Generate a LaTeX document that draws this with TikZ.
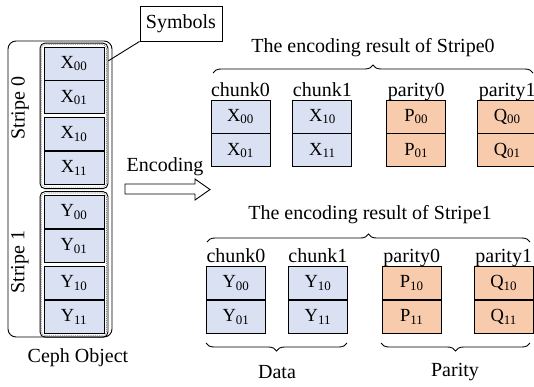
\documentclass[tikz,border=0pt]{standalone}
\usepackage{fontspec}
\setmainfont{Liberation Serif}
\usetikzlibrary{positioning, fit, decorations.pathreplacing, calc}
\definecolor{datablue}{RGB}{218,225,243}
\definecolor{parorange}{RGB}{248,203,173}

\begin{document}
\begin{tikzpicture}[x=1pt, y=-1pt, line width=0.9pt, font=\fontsize{20}{23}\selectfont,
    cell/.style={draw, minimum width=59pt, minimum height=33pt, inner sep=0pt, font=\fontsize{18.5}{21}\selectfont},
    data/.style={cell, fill=datablue},
    par/.style={cell, fill=parorange},
    grp/.style={draw, rounded corners=5pt, inner sep=3.5pt},
    grpin/.style={draw=gray, line width=0.6pt, dash pattern=on 1.2pt off 1pt, rounded corners=4pt, inner sep=2pt},
    lbl/.style={inner sep=2pt, text depth=0pt},
    brc/.style={decorate, decoration={brace, amplitude=8pt}}]
    \useasboundingbox (0,0) rectangle (534,386);

    % ceph object with the two stripes
    \node[data, minimum width=60pt] (x00) at (74,63.5) {X\textsubscript{00}};
    \node[data, minimum width=60pt, below=0pt of x00] (x01) {X\textsubscript{01}};
    \node[data, minimum width=60pt, below=3pt of x01] (x10) {X\textsubscript{10}};
    \node[data, minimum width=60pt, below=0pt of x10] (x11) {X\textsubscript{11}};
    \node[data, minimum width=60pt] (y00) at (74,212) {Y\textsubscript{00}};
    \node[data, minimum width=60pt, below=0pt of y00] (y01) {Y\textsubscript{01}};
    \node[data, minimum width=60pt, below=3pt of y01] (y10) {Y\textsubscript{10}};
    \node[data, minimum width=60pt, below=0pt of y10] (y11) {Y\textsubscript{11}};
    \node[grp, fit=(x00)(x11)] (grp0) {};
    \node[grpin, fit=(x00)(x11)] (grp0in) {};
    \node[grp, fit=(y00)(y11)] (grp1) {};
    \node[grpin, fit=(y00)(y11)] (grp1in) {};
    \node[draw, rounded corners=8pt, inner sep=0pt, fit={(8,41)(112,337)}] (obj) {};
    \node[rotate=90] (str0) at (20,108) {Stripe 0};
    \node[rotate=90] (str1) at (20,262) {Stripe 1};
    \node (ceph) at (78,358) {Ceph Object};

    \node[draw, minimum width=82pt, minimum height=35pt] (sym) at (181,23.5) {Symbols};
    \draw (sym.south west) -- (grp0.58);

    \node (enc) at (165,167) {Encoding};
    \draw (125,184) -- (195,184) -- (195,179) -- (210,189.5) -- (195,200) -- (195,194) -- (125,194) -- cycle;

    % result of stripe 0
    \node (res0) at (373,48) {The encoding result of Stripe0};
    \draw[brc] (213,73) -- (533,73);
    \node[data] (a00) at (240.5,116.5) {X\textsubscript{00}};
    \node[data, below=0pt of a00] (a01) {X\textsubscript{01}};
    \node[data, right=22pt of a00] (b00) {X\textsubscript{10}};
    \node[data, below=0pt of b00] (b01) {X\textsubscript{11}};
    \node[par, right=34pt of b00] (c00) {P\textsubscript{00}};
    \node[par, below=0pt of c00] (c01) {P\textsubscript{01}};
    \node[par, right=31pt of c00] (d00) {Q\textsubscript{00}};
    \node[par, below=0pt of d00] (d01) {Q\textsubscript{01}};
    \node[lbl, above=1pt of a00] (la) {chunk0};
    \node[lbl, above=1pt of b00] (lb) {chunk1};
    \node[lbl, above=1pt of c00] (lc) {parity0};
    \node[lbl, above=1pt of d00] (ld) {parity1};

    % result of stripe 1
    \node (res1) at (370,215) {The encoding result of Stripe1};
    \draw[brc] (207,242) -- (530,242);
    \node[data] (e00) at (236,283) {Y\textsubscript{00}};
    \node[data, below=0pt of e00] (e01) {Y\textsubscript{01}};
    \node[data, right=22pt of e00] (f00) {Y\textsubscript{10}};
    \node[data, below=0pt of f00] (f01) {Y\textsubscript{11}};
    \node[par, right=34pt of f00] (g00) {P\textsubscript{10}};
    \node[par, below=0pt of g00] (g01) {P\textsubscript{11}};
    \node[par, right=32pt of g00] (h00) {Q\textsubscript{10}};
    \node[par, below=0pt of h00] (h01) {Q\textsubscript{11}};
    \node[lbl, above=1pt of e00] (le) {chunk0};
    \node[lbl, above=1pt of f00] (lf) {chunk1};
    \node[lbl, above=1pt of g00] (lg) {parity0};
    \node[lbl, above=1pt of h00] (lh) {parity1};

    \draw[brc] (347,343) -- (206,343);
    \draw[brc] (530,343) -- (381,343);
    \node (data) at (277,372) {Data};
    \node (parity) at (455,372) {Parity};
\end{tikzpicture}
\end{document}
